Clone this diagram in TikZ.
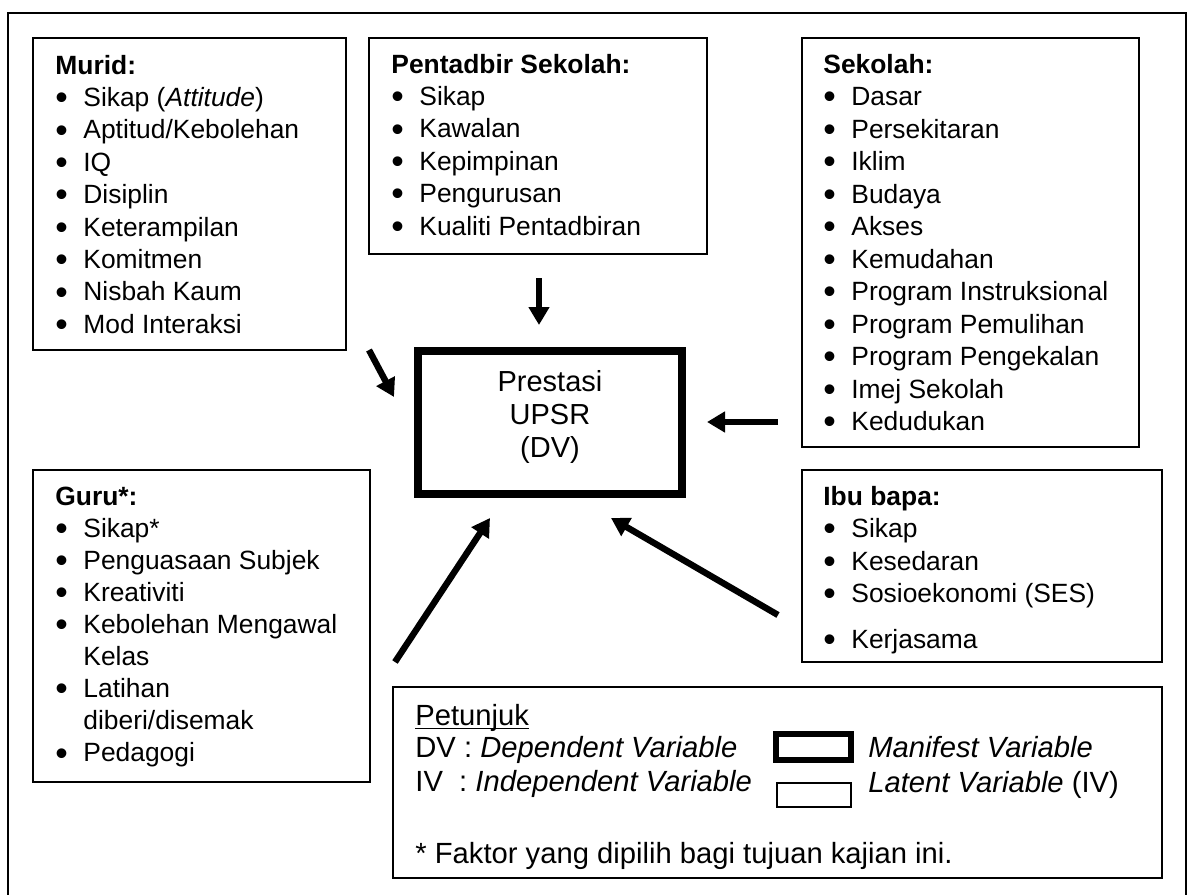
\documentclass[tikz,border=0pt]{standalone}
\usepackage{fontspec}
\setmainfont{Liberation Sans}
\usetikzlibrary{fit,arrows.meta}
\newcommand\bl{\makebox[14pt][l]{\smash{\raisebox{-1.6pt}{\scalebox{1.35}{\textbullet}}}}}
\newcommand\ind{\hspace*{14pt}}
\begin{document}
\begin{tikzpicture}[x=0.5pt,y=-0.5pt,
  box/.style={draw, line width=0.9pt, inner sep=0pt},
  ttl/.style={anchor=base west, inner sep=0pt, font=\fontsize{13.2pt}{16pt}\selectfont\bfseries},
  itm/.style={anchor=base west, inner sep=0pt, font=\fontsize{13.2pt}{16pt}\selectfont},
  big/.style={anchor=base, inner sep=0pt, font=\fontsize{14.5pt}{17pt}\selectfont},
  leg/.style={anchor=base west, inner sep=0pt, font=\fontsize{14.6pt}{17pt}\selectfont},
  arr/.style={line width=3.2pt, -{Triangle[length=9pt,width=10pt]}}]
\useasboundingbox (0,0) rectangle (1191,895);
\fill[white] (0,0) rectangle (1191,895);
\draw[line width=0.9pt] (8,895) -- (8,13) -- (1186,13) -- (1186,895);

% boxes
\node[box, fit={(33,38)(346,350)}] (murid) {};
\node[box, fit={(369,38)(707,254)}] (pent) {};
\node[box, fit={(802,38)(1139,447)}] (sek) {};
\node[box, fit={(33,470)(370,782)}] (guru) {};
\node[box, fit={(802,470)(1162,662)}] (ibu) {};
\node[box, fit={(393,687)(1162,878)}] (legend) {};
\node[box, line width=4pt, fit={(418,351)(682,494)}] (dv) {};

% Murid
\node[ttl] (muT) at (55,74) {Murid:};
\foreach \t [count=\i] in {{Sikap (\textit{Attitude})}, Aptitud/Kebolehan, IQ, Disiplin, Keterampilan, Komitmen, Nisbah Kaum, Mod Interaksi}
  \node[itm] (mu\i) at (55,74+32.4*\i) {\bl\t};

% Pentadbir
\node[ttl] (peT) at (391,73) {Pentadbir Sekolah:};
\foreach \t [count=\i] in {Sikap, Kawalan, Kepimpinan, Pengurusan, Kualiti Pentadbiran}
  \node[itm] (pe\i) at (391,73+32.4*\i) {\bl\t};

% Sekolah
\node[ttl] (seT) at (823,73) {Sekolah:};
\foreach \t [count=\i] in {Dasar, Persekitaran, Iklim, Budaya, Akses, Kemudahan, Program Instruksional, Program Pemulihan, Program Pengekalan, Imej Sekolah, Kedudukan}
  \node[itm] (se\i) at (823,73+32.5*\i) {\bl\t};

% Guru
\node[ttl] (guT) at (55,505) {Guru*:};
\foreach \t [count=\i] in {{\bl Sikap*}, {\bl Penguasaan Subjek}, {\bl Kreativiti}, {\bl Kebolehan Mengawal}, {\ind Kelas}, {\bl Latihan}, {\ind diberi/disemak}, {\bl Pedagogi}}
  \node[itm] (gu\i) at (55,505+32.1*\i) {\t};

% Ibu bapa
\node[ttl] (ibT) at (823,505) {Ibu bapa:};
\node[itm] (ib1) at (823,537) {\bl Sikap};
\node[itm] (ib2) at (823,570) {\bl Kesedaran};
\node[itm] (ib3) at (823,602) {\bl Sosioekonomi (SES)};
\node[itm] (ib4) at (823,648) {\bl Kerjasama};

% DV text
\node[big] (dv1) at (550,391) {Prestasi};
\node[big] (dv2) at (550,424) {UPSR};
\node[big] (dv3) at (550,457) {(DV)};

% Legend
\node[leg] (lg1) at (415,725) {\setbox0\hbox{Petunjuk}\rlap{\rule[-2.2pt]{\wd0}{0.7pt}}\box0};
\node[leg] (lg2) at (415,757) {DV : \textit{Dependent Variable}};
\node[leg] (lg3) at (415,791) {IV\ \ : \textit{Independent Variable}};
\node[leg] (lg4) at (415,863) {* Faktor yang dipilih bagi tujuan kajian ini.};
\node[box, line width=3pt, fit={(776,734)(851,760)}] (lgM) {};
\node[box, line width=0.8pt, fit={(777,783)(851,807)}] (lgL) {};
\node[leg] (lg5) at (868,757) {\textit{Manifest Variable}};
\node[leg] (lg6) at (868,792) {\textit{Latent Variable} (IV)};

% arrows
\coordinate (pA) at (539,278); \coordinate (pB) at (539,325);
\coordinate (mA) at (369,350); \coordinate (mB) at (394,397);
\coordinate (sA) at (778,422); \coordinate (sB) at (707,422);
\coordinate (gA) at (395,662); \coordinate (gB) at (490,518);
\coordinate (iA) at (778,615); \coordinate (iB) at (611,518);
\draw[arr] (pA) -- (pB);
\draw[arr] (mA) -- (mB);
\draw[arr] (sA) -- (sB);
\draw[arr] (gA) -- (gB);
\draw[arr] (iA) -- (iB);
\end{tikzpicture}
\end{document}
